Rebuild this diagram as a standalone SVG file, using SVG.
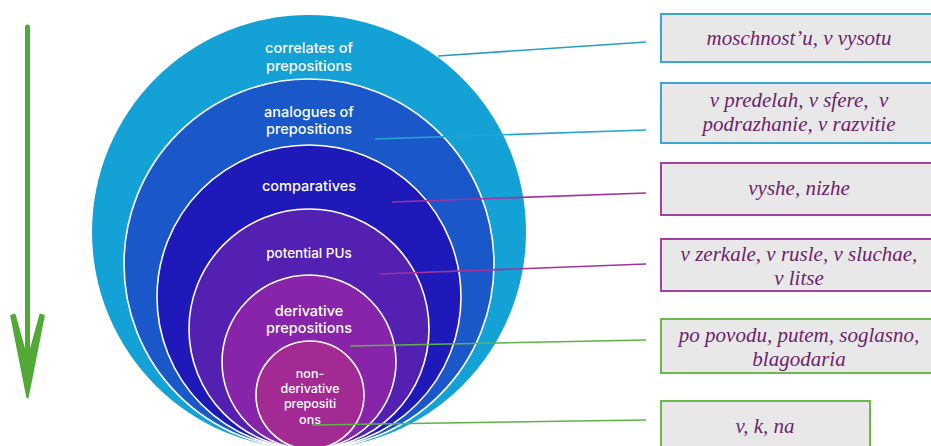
<svg xmlns="http://www.w3.org/2000/svg" width="931" height="446" viewBox="0 0 931 446">
<style>
.lbl{font-family:Inter,"Open Sans","Liberation Sans",sans-serif;font-weight:500;fill:#ffffff;text-anchor:middle}
.ring{stroke:#ffffff;stroke-width:1.6}
.box{fill:#e8e8e8;stroke-width:2}
.bt{font-family:"Liberation Serif",serif;font-style:italic;font-size:21px;fill:#6e1f6c;text-anchor:middle}
.cn{fill:none;stroke-width:1.6}
</style>
<rect width="931" height="446" fill="#ffffff"/>
<g id="arrow">
<line x1="27.5" y1="27" x2="27.5" y2="360" stroke="#52a935" stroke-width="5" stroke-linecap="round"/>
<path d="M25,353 L14.5,315 L11.5,316 L27.5,397 L43.5,316 L40.5,315 L30,353 Z" fill="#52a935" stroke="#52a935" stroke-width="2.5" stroke-linejoin="round"/>
</g>
<g id="circle-correlates">
<circle cx="309" cy="232" r="217" fill="#13a1d6"/>
<text class="lbl" x="309" y="53" font-size="14.5">correlates of</text>
<text class="lbl" x="309" y="71" font-size="14.5">prepositions</text>
</g>
<g id="circle-analogues">
<circle class="ring" cx="309" cy="264" r="185" fill="#1a58c9"/>
<text class="lbl" x="309" y="117" font-size="14.5">analogues of</text>
<text class="lbl" x="309" y="134" font-size="14.5">prepositions</text>
</g>
<g id="circle-comparatives">
<circle class="ring" cx="309" cy="297" r="152" fill="#1f19b9"/>
<text class="lbl" x="309" y="191" font-size="14.5">comparatives</text>
</g>
<g id="circle-potential">
<circle class="ring" cx="309" cy="329" r="120" fill="#5320b1"/>
<text class="lbl" x="309" y="258" font-size="13.5">potential PUs</text>
</g>
<g id="circle-derivative">
<circle class="ring" cx="309" cy="362" r="87" fill="#8724a9"/>
<text class="lbl" x="309" y="316" font-size="14.5">derivative</text>
<text class="lbl" x="309" y="333" font-size="14.5">prepositions</text>
</g>
<g id="circle-nonderivative">
<circle class="ring" cx="310" cy="395" r="54" fill="#a22a92"/>
<text class="lbl" x="310" y="378" font-size="12.5">non-</text>
<text class="lbl" x="310" y="393" font-size="12.5">derivative</text>
<text class="lbl" x="310" y="408" font-size="12.5">prepositi</text>
<text class="lbl" x="310" y="424" font-size="12.5">ons</text>
</g>
<g id="connectors">
<line class="cn" x1="438" y1="56" x2="646" y2="42" stroke="#2b9cc4"/>
<line class="cn" x1="375" y1="139" x2="646" y2="130" stroke="#2aa2d2"/>
<line class="cn" x1="392" y1="202" x2="646" y2="193" stroke="#a5319f"/>
<line class="cn" x1="380" y1="274" x2="646" y2="264" stroke="#a5319f"/>
<line class="cn" x1="350" y1="346" x2="646" y2="340" stroke="#5db346"/>
<line class="cn" x1="312" y1="425" x2="646" y2="420" stroke="#5db346"/>
</g>
<g id="box-correlates">
<rect class="box" x="661" y="14" width="276" height="48" stroke="#3ba7d2"/>
<text class="bt" x="799" y="45">moschnost’u, v vysotu</text>
</g>
<g id="box-analogues">
<rect class="box" x="661" y="83" width="276" height="60" stroke="#3ba7d2"/>
<text class="bt" x="799" y="107" xml:space="preserve">v predelah, v sfere,  v</text>
<text class="bt" x="799" y="131">podrazhanie, v razvitie</text>
</g>
<g id="box-comparatives">
<rect class="box" x="661" y="163" width="276" height="52" stroke="#a142a3"/>
<text class="bt" x="799" y="195">vyshe, nizhe</text>
</g>
<g id="box-potential">
<rect class="box" x="661" y="239" width="276" height="52" stroke="#a142a3"/>
<text class="bt" x="799" y="261">v zerkale, v rusle, v sluchae,</text>
<text class="bt" x="799" y="285">v litse</text>
</g>
<g id="box-derivative">
<rect class="box" x="661" y="319" width="276" height="54" stroke="#6cb84c"/>
<text class="bt" x="799" y="342">po povodu, putem, soglasno,</text>
<text class="bt" x="799" y="366">blagodaria</text>
</g>
<g id="box-nonderivative">
<rect class="box" x="661" y="401" width="209" height="60" stroke="#6cb84c"/>
<text class="bt" x="765" y="433">v, k, na</text>
</g>
</svg>
